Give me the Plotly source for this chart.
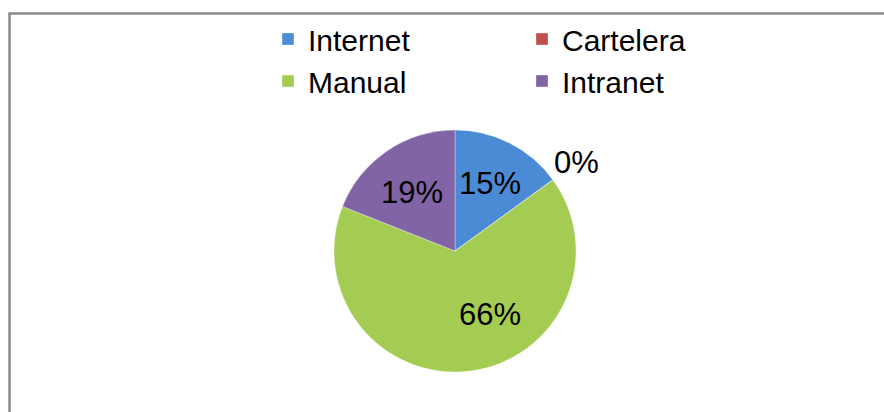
import math
import plotly.graph_objects as go

# Share of each information channel (percent)
categories = ["Internet", "Cartelera", "Manual", "Intranet"]
values = [15, 0, 66, 19]
colors = ["#4b8bd6", "#c0504d", "#a4cc52", "#8064a6"]

# Label placement: radial fraction of the radius, plus angular nudge in degrees
label_radius = [0.63, 1.24, 0.60, 0.60]
label_nudge = [0, 0, -22, -2]

W, H = 884, 412
ML, MR = 140, 140
PW = W - ML - MR


def px_x(px):
    return (px - ML) / PW


def px_y(py):
    return 1 - py / H


# Pie placement (pixels)
cx, cy, R = 455, 251, 121
dom_x = [px_x(cx - R), px_x(cx + R)]
dom_y = [px_y(cy + R), px_y(cy - R)]

fig = go.Figure()
fig.add_trace(go.Pie(
    labels=categories,
    values=values,
    sort=False,
    direction="clockwise",
    rotation=0,
    marker=dict(colors=colors, line=dict(color="rgba(255,255,255,0.35)", width=1)),
    textinfo="none",
    hoverinfo="label+percent",
    domain=dict(x=dom_x, y=dom_y),
    showlegend=True,
))

# Percentage labels placed at each slice's mid-angle
total = sum(values)
cum = 0
annotations = []
for v, rf, nud in zip(values, label_radius, label_nudge):
    mid = (cum + v / 2) / total * 360 + nud
    cum += v
    a = math.radians(mid)
    lx = cx + rf * R * math.sin(a)
    ly = cy - rf * R * math.cos(a)
    annotations.append(dict(
        x=px_x(lx), y=px_y(ly), xref="paper", yref="paper",
        text=f"{round(v / total * 100)}%", showarrow=False,
        font=dict(family="Liberation Sans, Arial", size=31, color="#000000"),
        xanchor="center", yanchor="middle",
    ))

fig.update_layout(
    width=W, height=H,
    margin=dict(l=ML, r=MR, t=0, b=0),
    paper_bgcolor="white",
    plot_bgcolor="white",
    font=dict(family="Liberation Sans, Arial", size=30, color="#000000"),
    legend=dict(
        orientation="h",
        x=px_x(268), y=px_y(13), xanchor="left", yanchor="top",
        entrywidth=209,
        font=dict(size=30),
        itemclick=False, itemdoubleclick=False,
        bgcolor="rgba(0,0,0,0)",
    ),
    annotations=annotations,
    shapes=[dict(
        type="rect", xref="paper", yref="paper",
        x0=px_x(9.5), x1=px_x(W + 10), y0=px_y(H + 10), y1=px_y(13.5),
        line=dict(color="#8a8a8a", width=2.5), fillcolor="rgba(0,0,0,0)",
        layer="below",
    )],
)

fig.write_html("out.html")
